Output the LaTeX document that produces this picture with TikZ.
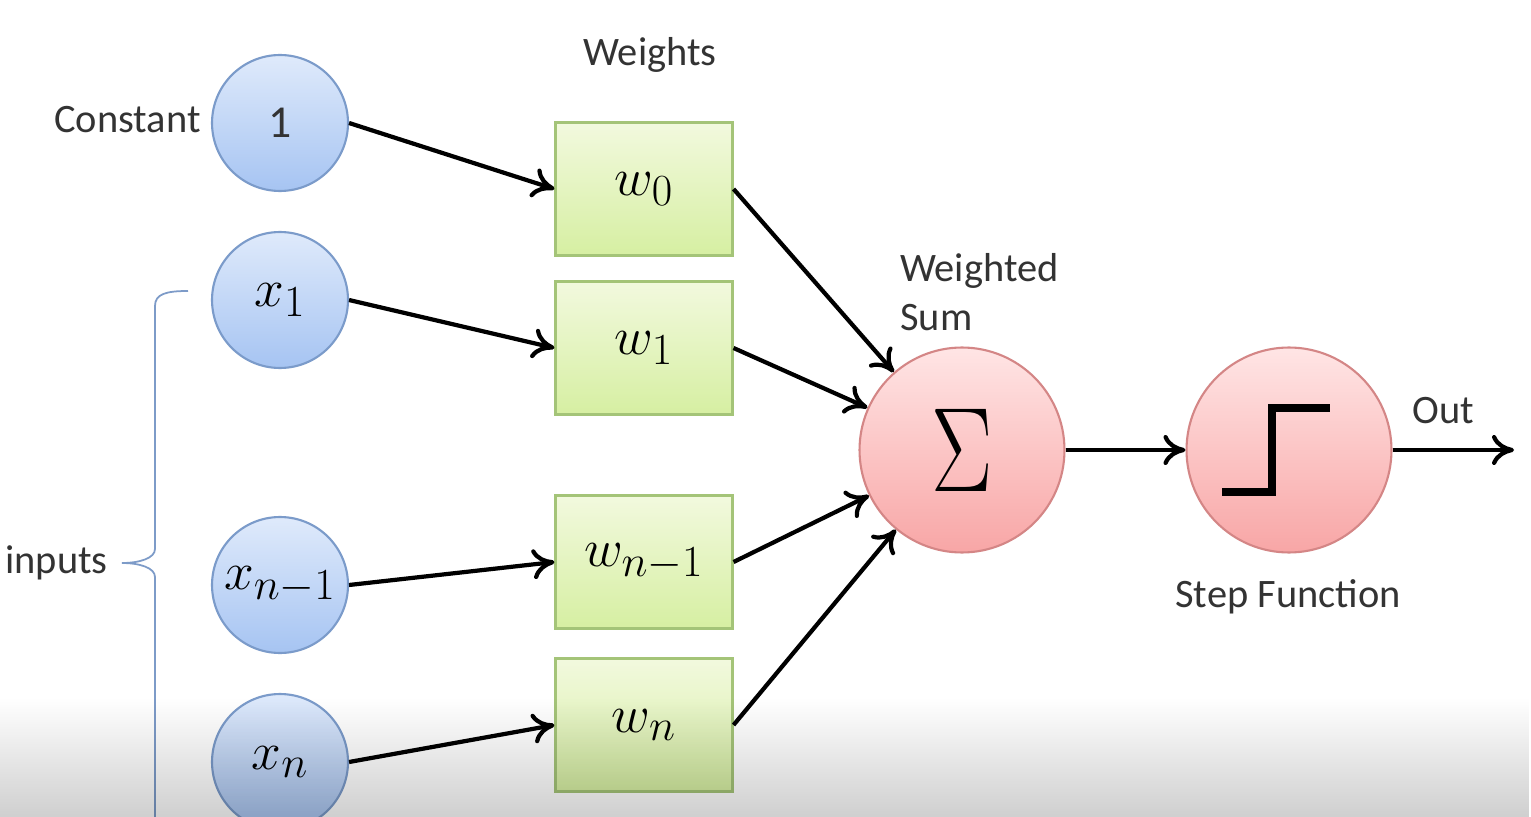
\documentclass[tikz,border=0pt]{standalone}
\usepackage[no-math]{fontspec}
\setmainfont{Carlito}
\usepackage{graphicx}
\usetikzlibrary{arrows.meta,fadings}

\definecolor{intop}{HTML}{DFEAFB}
\definecolor{inbot}{HTML}{A6C4F2}
\definecolor{inedge}{HTML}{7B9BCA}
\definecolor{wtop}{HTML}{F2F9DE}
\definecolor{wbot}{HTML}{D6EFA2}
\definecolor{wedge}{HTML}{A4C478}
\definecolor{rtop}{HTML}{FFE5E5}
\definecolor{rbot}{HTML}{F8A6A6}
\definecolor{redge}{HTML}{D48686}
\definecolor{txtgray}{HTML}{333333}
\definecolor{bracecol}{HTML}{7D9BC8}

\newcommand{\bigmath}[1]{\scalebox{1.22}{\fontsize{24.88}{24.88}\selectfont$#1$}}

\begin{document}
\begin{tikzpicture}[x=0.02cm,y=-0.02cm,
    input/.style={circle, draw=inedge, line width=1.2pt, top color=intop, bottom color=inbot,
      minimum size=2.72cm, inner sep=0pt},
    weight/.style={rectangle, draw=wedge, line width=1.2pt, top color=wtop, bottom color=wbot,
      minimum width=3.54cm, minimum height=2.66cm, inner sep=0pt},
    unit/.style={circle, draw=redge, line width=1.2pt, top color=rtop, bottom color=rbot,
      minimum size=4.1cm, inner sep=0pt},
    txt/.style={text=txtgray, font=\fontsize{23}{27.5}\selectfont, inner sep=0pt},
    link/.style={line width=2.4pt, -{To[length=4.4mm,width=6mm]}}]
\useasboundingbox (0,0) rectangle (1531,817);
\fill[white] (0,0) rectangle (1531,817);

% inputs
\node[input] (one) at (280,123) {\fontsize{26}{26}\selectfont\color{txtgray}1};
\node[input] (x1)  at (280,300) {\bigmath{x_1}};
\node[input] (xn1) at (280,585) {\bigmath{x_{n-1}}};
\node[input] (xn)  at (280,762) {\bigmath{x_n}};

% weights
\node[weight] (w0)  at (644,189) {\bigmath{w_0}};
\node[weight] (w1)  at (644,348) {\bigmath{w_1}};
\node[weight] (wn1) at (644,562) {\bigmath{w_{n-1}}};
\node[weight] (wn)  at (644,725) {\bigmath{w_n}};

% sum and step
\node[unit] (sum)  at (962,450) {\scalebox{2.1}[2.75]{\fontsize{24.88}{24.88}\selectfont$\Sigma$}};
\node[unit] (step) at (1289,450) {};
\draw[line width=4.5pt] ([shift={(-67,42)}]step.center) -- ++(50,0) -- ++(0,-84) -- ++(58,0);
\coordinate (out) at (1514,450);

% texts
\node[txt, anchor=east] (const) at (201,120) {Constant};
\node[txt] (wlab) at (650,55) {Weights};
\node[txt, anchor=west, align=left] (slab) at (900,292) {Weighted\\Sum};
\node[txt] (olab) at (1443,411) {Out};
\node[txt] (flab) at (1288,597) {Step Function};
\node[txt, anchor=west] (ilab) at (5,563) {inputs};

% brace
\draw[bracecol, line width=1pt] (188,291) .. controls (166,291) and (155,294) .. (155,306)
  -- (155,549) .. controls (155,558) and (140,563) .. (122,563)
  .. controls (140,563) and (155,568) .. (155,577) -- (155,817);

% connections
\draw[link] (one.east) -- (w0.west);
\draw[link] (x1.east) -- (w1.west);
\draw[link] (xn1.east) -- (wn1.west);
\draw[link] (xn.east) -- (wn.west);
\foreach \w in {w0,w1,wn1,wn}
  \draw[link] (\w.east) -- (sum);
\draw[link] (sum) -- (step);
\draw[link] (step.east) -- (out);

% screen shade at the bottom
\fill[black, fill opacity=0.19, path fading=north] (0,698) rectangle (1531,817);
\end{tikzpicture}
\end{document}
